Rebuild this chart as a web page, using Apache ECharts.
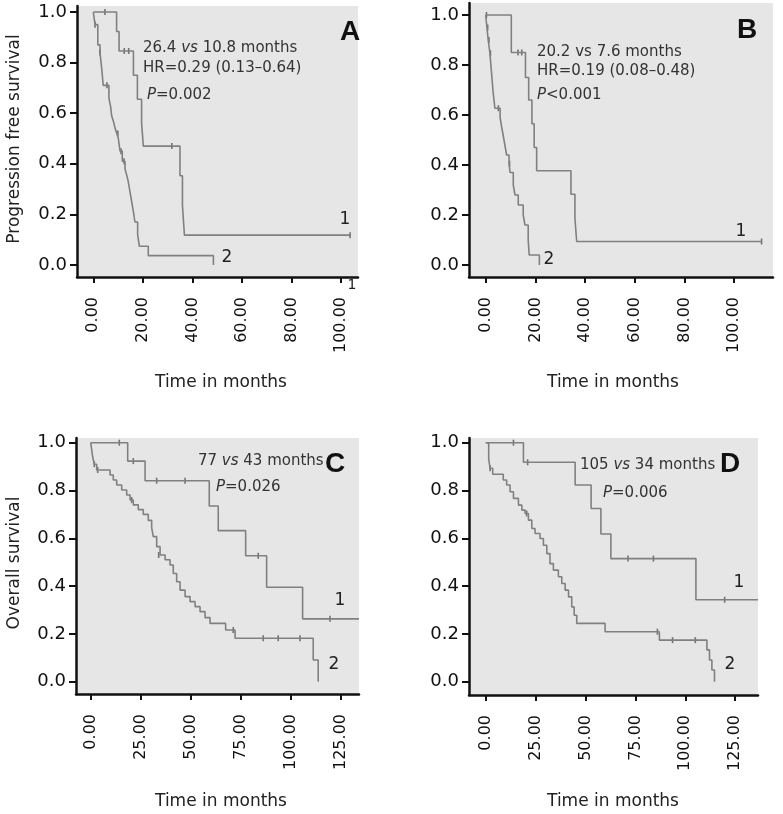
<!DOCTYPE html>
<html><head><meta charset="utf-8">
<script src="https://cdn.jsdelivr.net/npm/echarts@6/dist/echarts.min.js"></script>
<style>html,body{margin:0;padding:0;background:#fff}#c{width:783px;height:814px}</style>
</head><body><div id="c"></div>
<script>
// ---------- Tick values ----------
const xTicksPFS = [0, 20, 40, 60, 80, 100];
const xTicksOS = [0, 25, 50, 75, 100, 125];
const yTicks = [0, 0.2, 0.4, 0.6, 0.8, 1.0];

// ---------- Panel A (PFS) ----------
const A1_time = [0, 9.4, 10.4, 16.2, 17.8, 19.5, 20.2, 35.0, 36.0, 36.8, 103.7];
const A1_surv = [1, 0.923, 0.846, 0.75, 0.655, 0.56, 0.47, 0.353, 0.235, 0.118, 0.118];
const A1_censT = [4.7, 12.5, 14.3, 31.7, 103.7];
const A1_censS = [1, 0.846, 0.846, 0.47, 0.118];
const A2_time = [0, 0.7, 1.8, 2.7, 3.4, 4.0, 6.3, 7.0, 7.4, 8.2, 8.8, 9.5, 10.1, 10.8, 11.7, 12.8, 13.5, 14.1, 14.8, 15.5, 16.2, 16.8, 17.9, 18.6, 22.2, 48.5];
const A2_surv = [1, 0.95, 0.87, 0.84, 0.775, 0.71, 0.66, 0.625, 0.59, 0.565, 0.54, 0.52, 0.50, 0.45, 0.41, 0.38, 0.355, 0.33, 0.29, 0.25, 0.21, 0.17, 0.12, 0.074, 0.037, 0];
const A2_censT = [0.7, 2.7, 5.5, 9.9, 11.2, 12.4];
const A2_censS = [0.95, 0.84, 0.71, 0.52, 0.45, 0.41];

// ---------- Panel B (PFS) ----------
const B1_time = [0, 10.3, 16.0, 17.3, 18.6, 19.5, 20.5, 34.3, 35.9, 36.6, 111];
const B1_surv = [1, 0.85, 0.75, 0.66, 0.565, 0.47, 0.377, 0.283, 0.188, 0.094, 0.094];
const B1_censT = [13.0, 14.5, 111];
const B1_censS = [0.85, 0.85, 0.094];
const B2_time = [0, 0.5, 1.0, 1.7, 2.5, 3.0, 3.7, 5.8, 6.4, 7.1, 7.8, 8.4, 9.4, 9.8, 11.1, 11.8, 13.1, 15.1, 15.8, 17.1, 17.5, 21.6];
const B2_surv = [1, 0.95, 0.9, 0.847, 0.75, 0.69, 0.627, 0.59, 0.553, 0.515, 0.475, 0.44, 0.405, 0.37, 0.32, 0.28, 0.24, 0.2, 0.16, 0.1, 0.04, 0];
const B2_censT = [0.3, 0.8, 1.3, 1.9, 5.1, 9.6];
const B2_censS = [1, 0.95, 0.9, 0.847, 0.627, 0.405];

// ---------- Panel C (OS) ----------
const C1_time = [0, 18.5, 27.2, 59.3, 63.8, 77.5, 88.0, 106.0, 134.2];
const C1_surv = [1, 0.923, 0.841, 0.735, 0.632, 0.527, 0.395, 0.263, 0.263];
const C1_censT = [14.3, 21.3, 33, 47.2, 83.8, 119.7];
const C1_censS = [1, 0.923, 0.841, 0.841, 0.527, 0.263];
const C2_time = [0, 1.0, 1.8, 3.0, 9.7, 11.3, 13.0, 15.5, 18.0, 19.7, 21.3, 23.8, 26.3, 28.8, 30.5, 31.3, 33.0, 34.7, 37.2, 39.7, 41.3, 43.0, 44.7, 47.2, 49.7, 52.2, 54.7, 57.2, 59.7, 67.5, 72.2, 111.3, 113.8];
const C2_surv = [1, 0.94, 0.91, 0.886, 0.865, 0.844, 0.823, 0.802, 0.781, 0.76, 0.74, 0.72, 0.70, 0.675, 0.645, 0.607, 0.565, 0.53, 0.51, 0.488, 0.453, 0.418, 0.383, 0.356, 0.335, 0.314, 0.293, 0.268, 0.244, 0.216, 0.182, 0.091, 0];
const C2_censT = [1.8, 3.5, 20.5, 34.0, 71.3, 86.3, 93.8, 104.7];
const C2_censS = [0.91, 0.886, 0.76, 0.53, 0.216, 0.182, 0.182, 0.182];

// ---------- Panel D (OS) ----------
const D1_time = [0, 18.9, 44.8, 52.8, 57.7, 62.7, 105.3, 136.4];
const D1_surv = [1, 0.918, 0.823, 0.725, 0.618, 0.515, 0.343, 0.343];
const D1_censT = [13.9, 21, 71.3, 84, 119.7];
const D1_censS = [1, 0.918, 0.515, 0.515, 0.343];
const D2_time = [0, 1.5, 2.2, 3.5, 8.8, 10.5, 12.2, 13.9, 16.4, 18.1, 19.7, 21.4, 23.1, 24.7, 27.2, 28.9, 30.6, 32.2, 33.9, 36.4, 38.1, 39.8, 41.5, 43.1, 44.3, 45.6, 59.8, 87.0, 110.8, 112.1, 113.3, 114.6];
const D2_surv = [1, 0.93, 0.893, 0.868, 0.844, 0.823, 0.795, 0.767, 0.739, 0.718, 0.704, 0.676, 0.641, 0.62, 0.599, 0.571, 0.536, 0.494, 0.467, 0.439, 0.411, 0.383, 0.355, 0.313, 0.278, 0.244, 0.209, 0.174, 0.133, 0.091, 0.049, 0];
const D2_censT = [2.2, 20.5, 86.0, 93.6, 105];
const D2_censS = [0.893, 0.704, 0.209, 0.174, 0.174];

// ---------- Build ----------
const zip = (a, b) => a.map((v, i) => [v, b[i]]);
const FONT = '"DejaVu Sans", sans-serif';
const LINE = '#808080';
const CENS = '#555';

const panels = [
  { grid: {left: 77, top: 6, width: 281, height: 271}, x: [-6.59, 106.9], y: [-0.0474, 1.0237], ticks: xTicksPFS,
    curves: [[A1_time, A1_surv, A1_censT, A1_censS], [A2_time, A2_surv, A2_censT, A2_censS]] },
  { grid: {left: 469, top: 3, width: 304, height: 274}, x: [-6.72, 115.6], y: [-0.048, 1.048], ticks: xTicksPFS,
    curves: [[B1_time, B1_surv, B1_censT, B1_censS], [B2_time, B2_surv, B2_censT, B2_censS]] },
  { grid: {left: 76, top: 438, width: 283, height: 256}, x: [-7.35, 134.2], y: [-0.0515, 1.0197], ticks: xTicksOS,
    curves: [[C1_time, C1_surv, C1_censT, C1_censS], [C2_time, C2_surv, C2_censT, C2_censS]] },
  { grid: {left: 469, top: 438, width: 289, height: 257}, x: [-8.37, 136.4], y: [-0.0556, 1.0197], ticks: xTicksOS,
    curves: [[D1_time, D1_surv, D1_censT, D1_censS], [D2_time, D2_surv, D2_censT, D2_censS]] }
];

const grid = [], xAxis = [], yAxis = [], series = [];
panels.forEach((p, i) => {
  grid.push(Object.assign({show: true, backgroundColor: '#e6e6e6', borderWidth: 0, containLabel: false, outerBoundsMode: 'none'}, p.grid));
  xAxis.push({
    gridIndex: i, type: 'value', min: p.x[0], max: p.x[1],
    axisLine: {show: true, onZero: false, lineStyle: {color: '#111', width: 2.5}},
    axisTick: {show: true, customValues: p.ticks, length: 6, lineStyle: {color: '#111', width: 2}},
    axisLabel: {customValues: p.ticks, rotate: 90, margin: 20, fontSize: 16, fontFamily: FONT, color: '#111',
      formatter: v => Number(v).toFixed(2)},
    splitLine: {show: false}
  });
  yAxis.push({
    gridIndex: i, type: 'value', min: p.y[0], max: p.y[1],
    axisLine: {show: true, onZero: false, lineStyle: {color: '#111', width: 2.5}},
    axisTick: {show: true, customValues: yTicks, length: 7, lineStyle: {color: '#111', width: 2}},
    axisLabel: {customValues: yTicks, margin: 10, fontSize: 18, fontFamily: FONT, color: '#111',
      formatter: v => Number(v).toFixed(1)},
    splitLine: {show: false}
  });
  p.curves.forEach(c => {
    series.push({type: 'line', xAxisIndex: i, yAxisIndex: i, step: 'end', showSymbol: false, symbol: 'none',
      data: zip(c[0], c[1]), lineStyle: {color: LINE, width: 1.6}, silent: true, animation: false});
    series.push({type: 'scatter', xAxisIndex: i, yAxisIndex: i, symbol: 'rect', symbolSize: [1.6, 6],
      data: zip(c[2], c[3]), itemStyle: {color: CENS}, silent: true, animation: false});
  });
});

function txt(x, y, text, opts) {
  return {type: 'text', x: x, y: y, silent: true,
    style: Object.assign({text: text, fontSize: 15, fontFamily: FONT, fill: '#333', textAlign: 'left', textVerticalAlign: 'middle'}, opts || {})};
}
const richIt = {
  n: {fontSize: 15, fontFamily: FONT, fill: '#333'},
  i: {fontSize: 15, fontFamily: FONT, fill: '#333', fontStyle: 'italic'}
};
const LETTER = {fontSize: 28, fontFamily: '"Liberation Sans", Arial, sans-serif', fontWeight: 'bold', fill: '#111'};
const NUM = {fontSize: 17, fill: '#222', textAlign: 'center'};

const graphic = [
  // y-axis titles
  Object.assign(txt(15, 139, 'Progression free survival', {fontSize: 17, fill: '#222', textAlign: 'center'}), {rotation: Math.PI / 2}),
  Object.assign(txt(15, 563, 'Overall survival', {fontSize: 17, fill: '#222', textAlign: 'center'}), {rotation: Math.PI / 2}),
  // x-axis titles
  txt(221, 383, 'Time in months', {fontSize: 17, fill: '#222', textAlign: 'center'}),
  txt(613, 383, 'Time in months', {fontSize: 17, fill: '#222', textAlign: 'center'}),
  txt(221, 802, 'Time in months', {fontSize: 17, fill: '#222', textAlign: 'center'}),
  txt(613, 802, 'Time in months', {fontSize: 17, fill: '#222', textAlign: 'center'}),
  // stray fragment next to panel A axis
  txt(352, 285, '1', {fontSize: 14, fill: '#222', textAlign: 'center'}),
  // Panel A annotations
  txt(143, 48, '{n|26.4 }{i|vs}{n| 10.8 months}', {rich: richIt}),
  txt(143, 68.5, 'HR=0.29 (0.13\u20130.64)'),
  txt(147, 95.5, '{i|P}{n|=0.002}', {rich: richIt}),
  // Panel B annotations
  txt(537, 52.5, '20.2 vs 7.6 months'),
  txt(537, 71.5, 'HR=0.19 (0.08\u20130.48)'),
  txt(537, 95.5, '{i|P}{n|<0.001}', {rich: richIt}),
  // Panel C annotations
  txt(198, 461, '{n|77 }{i|vs}{n| 43 months}', {rich: richIt}),
  txt(216, 487.5, '{i|P}{n|=0.026}', {rich: richIt}),
  // Panel D annotations
  txt(580, 465, '{n|105 }{i|vs}{n| 34 months}', {rich: richIt}),
  txt(603, 493, '{i|P}{n|=0.006}', {rich: richIt}),
  // Panel letters
  txt(340, 32, 'A', LETTER),
  txt(737, 30.5, 'B', LETTER),
  txt(325, 464, 'C', LETTER),
  txt(720, 464, 'D', LETTER),
  // Curve labels
  txt(345, 220, '1', NUM), txt(227, 258, '2', NUM),
  txt(741, 232, '1', NUM), txt(549, 260, '2', NUM),
  txt(340, 601, '1', NUM), txt(334, 665, '2', NUM),
  txt(739, 583, '1', NUM), txt(730, 665, '2', NUM)
];

const chart = echarts.init(document.getElementById('c'), null, {renderer: 'canvas'});
chart.setOption({backgroundColor: '#fff', animation: false, grid, xAxis, yAxis, series, graphic});
</script>
</body></html>
